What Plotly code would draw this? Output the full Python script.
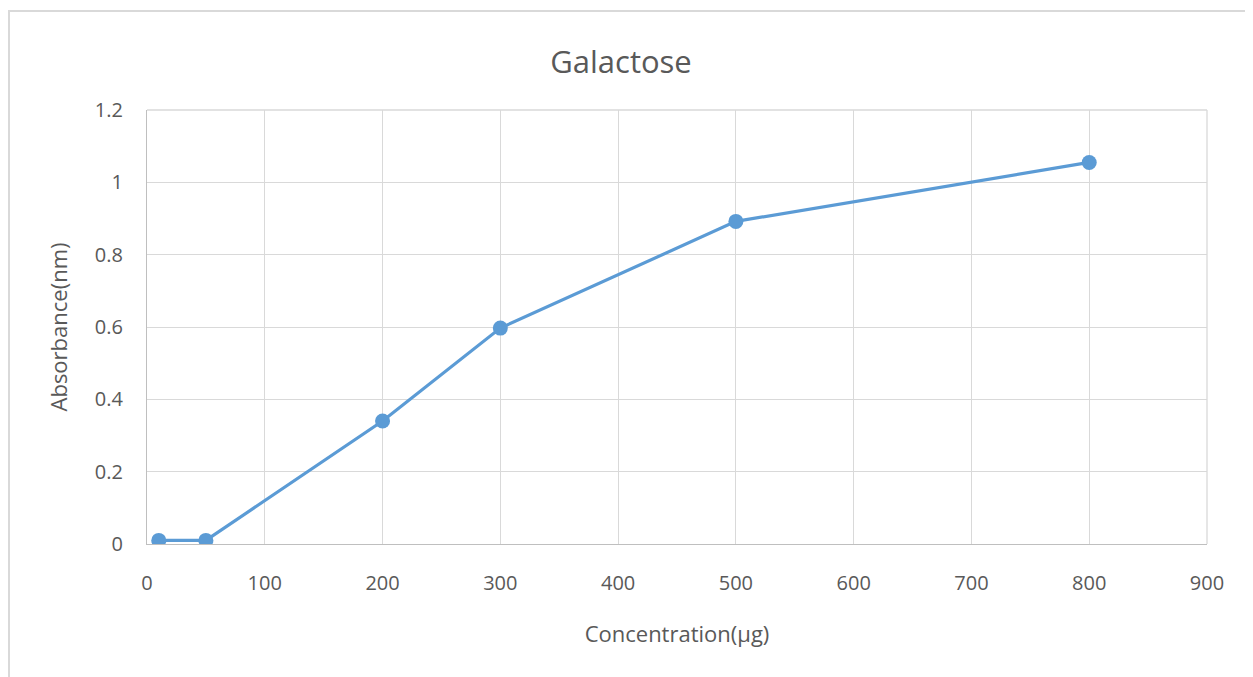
import plotly.graph_objects as go

concentration = [10, 50, 200, 300, 500, 800]
absorbance = [0.01, 0.01, 0.34, 0.597, 0.892, 1.055]

W, H = 1253, 677
OFF = 8  # page body margin
L, T = 147 - OFF, 110 - OFF
pw, ph = 1060, 434
R, B = W - L - pw, H - T - ph

fig = go.Figure(go.Scatter(
    x=concentration, y=absorbance, mode="lines+markers",
    line=dict(color="#5B9BD5", width=3.2),
    marker=dict(color="#5B9BD5", size=15),
))

font = "Open Sans, Liberation Sans, sans-serif"
fig.update_layout(
    width=W, height=H,
    margin=dict(l=L, r=R, t=T, b=B),
    paper_bgcolor="white", plot_bgcolor="white",
    showlegend=False,
    font=dict(family=font, color="#595959", size=16),
    title=dict(text="Galactose", x=(621 - OFF) / W, xanchor="center", y=1 - (62 - OFF) / H, yanchor="middle",
               font=dict(size=31, color="#595959", family=font)),
    xaxis=dict(range=[0, 900], dtick=100, tick0=0, showgrid=True, gridcolor="#D9D9D9", gridwidth=1.3,
               showline=True, linecolor="#BFBFBF", linewidth=1.3, zeroline=False,
               ticks="", ticklabelstandoff=21, tickfont=dict(size=20),
               title=dict(text="Concentration(µg)", font=dict(size=22), standoff=31)),
    yaxis=dict(range=[0, 1.2], dtick=0.2, tick0=0, showgrid=True, gridcolor="#D9D9D9", gridwidth=1.3,
               showline=True, linecolor="#BFBFBF", linewidth=1.3, zeroline=False,
               ticks="", ticklabelstandoff=19, tickfont=dict(size=20),
               title=dict(text="Absorbance(nm)", font=dict(size=22), standoff=21)),
    shapes=[
        dict(type="line", xref="paper", yref="paper", x0=1, x1=1, y0=0, y1=1,
             line=dict(color="#D9D9D9", width=1.3), layer="below"),
        dict(type="line", xref="paper", yref="paper", x0=0, x1=1, y0=1, y1=1,
             line=dict(color="#D9D9D9", width=1.3), layer="below"),
        dict(type="rect", xref="paper", yref="paper",
             x0=(1 - L) / pw, x1=(W + 20 - L) / pw,
             y0=-(B + 30) / ph, y1=(H - (11 - OFF) - B) / ph,
             line=dict(color="#D9D9D9", width=2), fillcolor="rgba(0,0,0,0)", layer="below"),
    ],
)
fig.write_html("out.html")
